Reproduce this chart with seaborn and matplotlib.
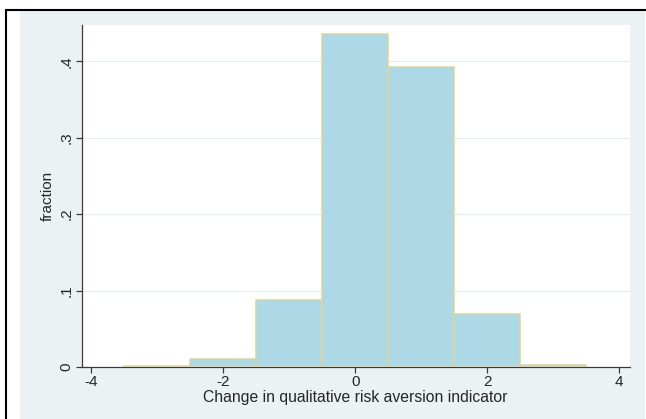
import matplotlib
matplotlib.use("Agg")
import matplotlib.pyplot as plt
from matplotlib.patches import Rectangle
import seaborn as sns
import numpy as np

# Data
bin_centers = [-3, -2, -1, 0, 1, 2, 3]
fractions = [0.001, 0.010, 0.088, 0.436, 0.392, 0.069, 0.003]
bin_edges = [-3.5, -2.5, -1.5, -0.5, 0.5, 1.5, 2.5, 3.5]
x_ticks = [-4, -2, 0, 2, 4]
x_ticklabels = ["-4", "-2", "0", "2", "4"]
y_ticks = [0, 0.1, 0.2, 0.3, 0.4]
y_ticklabels = ["0", ".1", ".2", ".3", ".4"]
x_label = "Change in qualitative risk aversion indicator"
y_label = "fraction"

sns.set_style("white")
plt.rcParams["font.family"] = ["Liberation Sans", "DejaVu Sans"]

W, H = 646, 419
fig = plt.figure(figsize=(W / 100, H / 100), dpi=100)
fig.patch.set_facecolor("white")

# graph region (light bluish gray) and outer black frame
fig.add_artist(Rectangle((20 / W, 0), (645 - 20) / W, 1 - 11 / H,
                         transform=fig.transFigure, facecolor="#eaf2f3",
                         edgecolor="none", zorder=0))
fig.add_artist(Rectangle((5.8 / W, -0.1), 1.2, 1.1 - 9.7 / H,
                         transform=fig.transFigure, facecolor="none",
                         edgecolor="black", linewidth=1.5, zorder=1))

left, right = 81.6 / W, 629.6 / W
top, bottom = 1 - 25 / H, 1 - 367 / H
ax = fig.add_axes([left, bottom, right - left, top - bottom])
ax.set_facecolor("white")
ax.set_zorder(2)

sns.histplot(x=bin_centers, weights=fractions, bins=bin_edges, ax=ax,
             color="#add8e6", edgecolor="#ddd49e", linewidth=1.1, alpha=1.0,
             zorder=3)

ax.set_xlim(-4.15, 4.16)
ax.set_ylim(0, 0.4475)

for yt in y_ticks[1:]:
    ax.axhline(yt, color="#e6eef0", linewidth=1.0, zorder=1)

ax.set_xticks(x_ticks)
ax.set_xticklabels(x_ticklabels, fontsize=11)
ax.set_yticks(y_ticks)
ax.set_yticklabels(y_ticklabels, fontsize=11, rotation=90, va="center")

for s in ["top", "right"]:
    ax.spines[s].set_visible(False)
for s in ["left", "bottom"]:
    ax.spines[s].set_color("#3a3a3a")
    ax.spines[s].set_linewidth(0.9)

ax.tick_params(axis="both", direction="out", length=4, width=0.9,
               color="#3a3a3a", pad=2, bottom=True, left=True)

ax.set_xlabel(x_label, fontsize=11.3, labelpad=0.5)
ax.set_ylabel(y_label, fontsize=11, labelpad=3)

fig.savefig("out.png", dpi=100, facecolor="white")
